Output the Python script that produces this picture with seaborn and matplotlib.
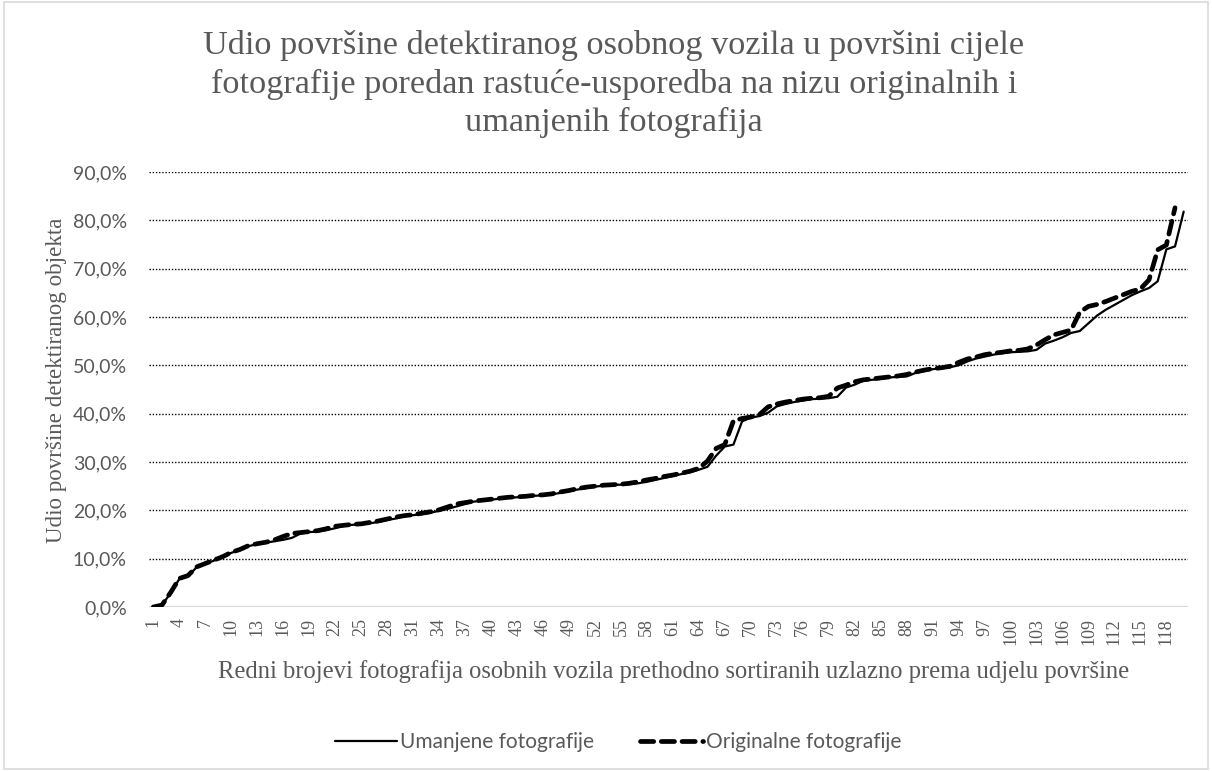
import numpy as np
import pandas as pd
import matplotlib
matplotlib.use("Agg")
import matplotlib.pyplot as plt
import seaborn as sns
from matplotlib.ticker import FuncFormatter, FixedLocator
from matplotlib.patches import Rectangle

# Share of the detected car's area in the whole photo (%), sorted ascending
umanjene = [
    0.0, 0.4, 2.9, 5.8, 6.4, 8.2, 8.9, 9.6, 10.3, 11.2,
    11.8, 12.6, 13.0, 13.3, 13.6, 13.9, 14.3, 15.2, 15.5, 15.6,
    15.9, 16.3, 16.8, 17.0, 17.1, 17.3, 17.6, 18.0, 18.3, 18.8,
    19.0, 19.2, 19.5, 19.9, 20.3, 20.8, 21.3, 21.8, 22.0, 22.2,
    22.4, 22.6, 22.7, 22.8, 23.0, 23.1, 23.3, 23.6, 24.0, 24.3,
    24.6, 24.9, 25.1, 25.3, 25.3, 25.4, 25.6, 25.9, 26.3, 26.7,
    27.1, 27.5, 27.9, 28.4, 29.0, 31.3, 33.2, 33.6, 38.4, 39.2,
    39.5, 40.2, 41.5, 42.0, 42.4, 42.7, 43.0, 43.1, 43.2, 43.5,
    45.4, 46.0, 46.8, 47.0, 47.2, 47.5, 47.6, 47.7, 48.4, 48.8,
    49.2, 49.4, 49.6, 50.0, 50.8, 51.4, 51.8, 52.2, 52.5, 52.7,
    52.8, 52.9, 53.2, 54.5, 55.1, 55.8, 56.7, 57.1, 58.7, 60.3,
    61.5, 62.5, 63.5, 64.5, 65.3, 66.0, 67.4, 74.0, 74.6, 81.8,
]
originalne = [
    0.0, 0.4, 3.0, 5.9, 6.5, 8.3, 9.0, 9.7, 10.4, 11.3,
    11.9, 12.7, 13.1, 13.4, 13.9, 14.6, 15.2, 15.4, 15.6, 15.8,
    16.2, 16.7, 16.9, 17.1, 17.2, 17.5, 17.8, 18.2, 18.6, 18.9,
    19.1, 19.4, 19.7, 20.1, 20.7, 21.3, 21.6, 21.9, 22.1, 22.3,
    22.5, 22.7, 22.8, 22.9, 23.1, 23.2, 23.4, 23.8, 24.1, 24.5,
    24.8, 25.0, 25.2, 25.3, 25.4, 25.6, 25.9, 26.3, 26.6, 27.0,
    27.3, 27.7, 28.1, 28.7, 30.2, 32.8, 33.6, 38.5, 39.0, 39.3,
    39.8, 41.4, 42.0, 42.4, 42.7, 43.0, 43.2, 43.3, 43.6, 45.3,
    45.9, 46.6, 47.0, 47.2, 47.4, 47.6, 47.8, 48.1, 48.6, 49.0,
    49.3, 49.5, 49.8, 50.6, 51.3, 51.7, 52.2, 52.5, 52.7, 53.0,
    53.1, 53.4, 54.2, 55.3, 56.3, 56.8, 57.3, 61.0, 62.2, 62.6,
    63.2, 63.9, 64.6, 65.3, 65.8, 67.7, 73.9, 74.9, 82.6,
]
redni_broj = list(range(1, len(umanjene) + 1))
oznake_x = list(range(1, len(umanjene) + 1, 3))
oznake_y = [0, 10, 20, 30, 40, 50, 60, 70, 80, 90]

naslov = ("Udio površine detektiranog osobnog vozila u površini cijele\n"
          "fotografije poredan rastuće-usporedba na nizu originalnih i\n"
          "umanjenih fotografija")
naziv_x = "Redni brojevi fotografija osobnih vozila prethodno sortiranih uzlazno prema udjelu površine"
naziv_y = "Udio površine detektiranog objekta"
serija_1 = "Umanjene fotografije"
serija_2 = "Originalne fotografije"

df = pd.DataFrame({
    "broj": redni_broj,
    serija_1: umanjene,
    serija_2: originalne + [np.nan] * (len(umanjene) - len(originalne)),
})

sns.set_theme(style="white")
plt.rcParams["font.family"] = ["Liberation Serif", "DejaVu Serif"]

grey = "#595959"
serif = ["Liberation Serif", "DejaVu Serif"]
sans = ["Lato", "DejaVu Sans"]

fig = plt.figure(figsize=(12.12, 7.71), dpi=100)
ax = fig.add_axes([149 / 1212, 1 - 607 / 771, (1188 - 149) / 1212, (607 - 172) / 771])

sns.lineplot(data=df, x="broj", y=serija_1, ax=ax, color="black", lw=1.6,
             label=serija_1)
sns.lineplot(data=df, x="broj", y=serija_2, ax=ax, color="black", lw=3.4,
             label=serija_2, dashes=False)
dashed = ax.get_lines()[1]
dashed.set_linestyle((0, (2.8, 1.6)))
dashed.set_dash_capstyle("round")

ax.set_xlim(0.5, len(umanjene) + 0.5)
ax.set_ylim(0, 90)

ax.yaxis.set_major_locator(FixedLocator(oznake_y))
ax.yaxis.set_major_formatter(FuncFormatter(lambda v, p: f"{v:.1f}%".replace(".", ",")))
ax.xaxis.set_major_locator(FixedLocator(oznake_x))
ax.set_xticklabels([str(v) for v in oznake_x], rotation=90, fontsize=13,
                   color=grey, family=serif)
for t in ax.get_yticklabels():
    t.set_fontfamily(sans)
    t.set_fontsize(14)
    t.set_color(grey)
ax.tick_params(axis="both", length=0)
ax.tick_params(axis="x", pad=8)
ax.tick_params(axis="y", pad=16)

for v in oznake_y[1:]:
    ax.axhline(v, color="black", lw=1.0, ls=(0, (1, 1.3)), zorder=0)
ax.axhline(0, color="#d9d9d9", lw=1.6, zorder=1)

for s in ax.spines.values():
    s.set_visible(False)

ax.set_xlabel("")
ax.set_ylabel("")
fig.text(674 / 1212, 1 - 672 / 771, naziv_x, ha="center", va="center",
         fontsize=17.7, color=grey, family=serif)
fig.text(57 / 1212, 1 - 380 / 771, naziv_y, ha="center", va="center",
         rotation=90, fontsize=16.6, color=grey, family=serif)
fig.text(614 / 1212, 1 - 84 / 771, naslov, ha="center", va="center",
         fontsize=24.7, color=grey, family=serif, linespacing=1.3)

leg = ax.legend(loc="center", bbox_to_anchor=(618 / 1212, 1 - 742 / 771),
                bbox_transform=fig.transFigure, ncol=2, frameon=False,
                handlelength=3.0, handletextpad=0.15, columnspacing=2.2,
                prop={"family": sans, "size": 15})
for t in leg.get_texts():
    t.set_color(grey)

fig.patches.append(Rectangle((0.003, 0.003), 0.994, 0.994, transform=fig.transFigure,
                             fill=False, edgecolor="#d9d9d9", lw=1.2))

fig.savefig("out.png", dpi=100, facecolor="white")
